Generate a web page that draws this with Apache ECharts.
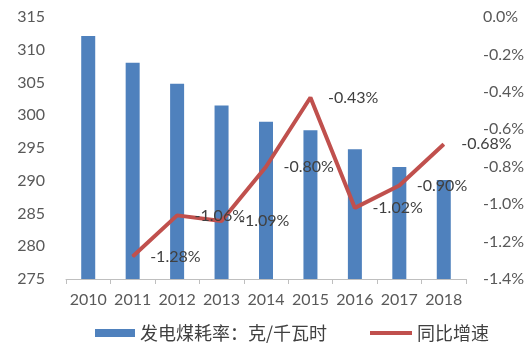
<!DOCTYPE html>
<html><head><meta charset="utf-8">
<script src="https://cdn.jsdelivr.net/npm/echarts@6/dist/echarts.min.js"></script>
<style>html,body{margin:0;padding:0;background:#fff}#c{width:529px;height:349px}</style>
</head><body><div id="c"></div>
<script>
const years = ['2010','2011','2012','2013','2014','2015','2016','2017','2018'];
const coalRate = [312.1, 308.0, 304.8, 301.5, 299.0, 297.7, 294.8, 292.1, 290.1];
const yoy = [null, -1.28, -1.06, -1.09, -0.80, -0.43, -1.02, -0.90, -0.68];
const barName = '发电煤耗率：克/千瓦时';
const lineName = '同比增速';
const font = 'Lato, "Open Sans", sans-serif';
const chart = echarts.init(document.getElementById('c'));
chart.setOption({
  animation: false,
  legend: [
    {data:[{name:barName, icon:'rect'}], left:90, top:319, itemWidth:40, itemHeight:8, itemGap:5,
     textStyle:{fontFamily:'"Noto Sans CJK SC"', fontSize:18, color:'#404040'}},
    {data:[{name:lineName, icon:'rect'}], left:365, top:319, itemWidth:42, itemHeight:4,
     textStyle:{fontFamily:'"Noto Sans CJK SC"', fontSize:18, color:'#404040'}}
  ],
  grid: {left:66, right:63, top:17, bottom:70},
  xAxis: {type:'category', data:years, boundaryGap:true,
    axisLine:{onZero:false, lineStyle:{color:'#BFBFBF'}}, axisTick:{show:true, length:5, interval:0, lineStyle:{color:'#BFBFBF'}},
    axisLabel:{interval:0, fontFamily:font, fontSize:16, color:'#595959', margin:13}},
  yAxis: [
    {type:'value', min:275, max:315, interval:5, splitLine:{show:false}, axisLine:{show:false}, axisTick:{show:false},
     axisLabel:{fontFamily:font, fontSize:16, color:'#595959', margin:21}},
    {type:'value', min:-1.4, max:0, interval:0.2, splitLine:{show:false}, axisLine:{show:false}, axisTick:{show:false},
     axisLabel:{fontFamily:font, fontSize:16, color:'#595959', margin:17, formatter:v=>v.toFixed(1)+'%'}}
  ],
  series: [
    {name:barName, type:'bar', data:coalRate, barWidth:14, itemStyle:{color:'#4F81BD'}},
    {name:lineName, type:'line', yAxisIndex:1, data:yoy, symbol:'circle', symbolSize:1, showSymbol:true,
     lineStyle:{color:'#C0504D', width:4}, itemStyle:{color:'#C0504D'},
     label:{show:true, position:'right', distance:17, fontFamily:font, fontSize:16, color:'#404040',
       formatter:p=>p.value.toFixed(2)+'%'}}
  ]
});
</script></body></html>
